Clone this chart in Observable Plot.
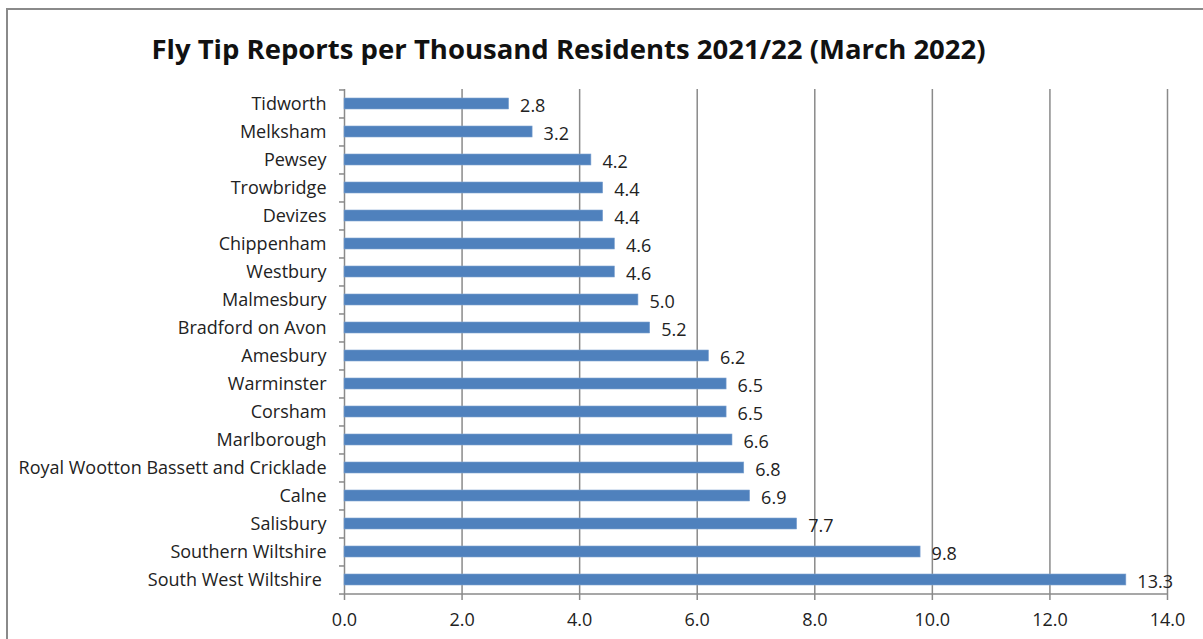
<!DOCTYPE html>
<html>
<head>
<meta charset="utf-8">
<script src="https://cdn.jsdelivr.net/npm/d3@7"></script>
<script src="https://cdn.jsdelivr.net/npm/@observablehq/plot@0.6"></script>
<style>
  html, body { margin: 0; padding: 0; background: #fff; overflow: hidden; }
  body { width: 1203px; height: 639px; position: relative; font-family: "Open Sans", Lato, sans-serif; }
  #frame { position: absolute; left: 6px; top: 8px; width: 1300px; height: 700px; border: 2px solid #8a8a8a; box-sizing: border-box; }
  #title { position: absolute; left: 0; top: 30px; width: 1137px; text-align: center; font-weight: bold; font-size: 27.5px; line-height: 38px; color: #111; }
  #chart { position: absolute; left: 0; top: 80px; }
</style>
</head>
<body>
<div id="frame"></div>
<div id="title">Fly Tip Reports per Thousand Residents 2021/22 (March 2022)</div>
<div id="chart"></div>
<script>
const categories = ["Tidworth","Melksham","Pewsey","Trowbridge","Devizes","Chippenham","Westbury","Malmesbury","Bradford on Avon","Amesbury","Warminster","Corsham","Marlborough","Royal Wootton Bassett and Cricklade","Calne","Salisbury","Southern Wiltshire","South West Wiltshire "];
const values = [2.8,3.2,4.2,4.4,4.4,4.6,4.6,5.0,5.2,6.2,6.5,6.5,6.6,6.8,6.9,7.7,9.8,13.3];
const xTicks = [0,2,4,6,8,10,12,14];

const data = categories.map((c, i) => ({name: c, value: values[i]}));
const W = 1203, H = 559, mt = 9, mb = 45;
const step = (H - mt - mb) / categories.length;
const grid = "#8a8a8a";

const plot = Plot.plot({
  width: W, height: H,
  marginLeft: 344, marginRight: 36, marginTop: mt, marginBottom: mb,
  style: {fontFamily: "'Open Sans', Lato, sans-serif", fontSize: "18px", color: "#222", background: "transparent"},
  x: {domain: [0, 14], ticks: xTicks},
  y: {domain: categories, paddingInner: 0.6, paddingOuter: 0.3},
  marks: [
    Plot.ruleX(xTicks, {stroke: grid, strokeWidth: 1.5}),
    Plot.barX(data, {y: "name", x: "value", fill: "#4F81BD", stroke: "#7FA3D1", strokeWidth: 0.6}),
    Plot.text(data, {y: "name", x: "value", text: d => d3.format(".1f")(d.value), textAnchor: "start", dx: 11, dy: 2, fill: "#222", fontSize: 18}),
    Plot.ruleY(categories, {y: d => d, x1: -0.085, x2: 0, stroke: grid, strokeWidth: 1.5, dy: -step / 2}),
    Plot.ruleY([categories[categories.length - 1]], {y: d => d, x1: -0.085, x2: 0, stroke: grid, strokeWidth: 1.5, dy: step / 2}),
    Plot.axisY({tickSize: 0, tickPadding: 18, fontSize: 18, label: null}),
    Plot.axisX({ticks: xTicks, tickFormat: d3.format(".1f"), tickSize: 6, tickPadding: 13, fontSize: 18, label: null, stroke: grid, strokeWidth: 1.5}),
    Plot.ruleY([categories[categories.length - 1]], {y: d => d, x1: 0, x2: 14, stroke: grid, strokeWidth: 1.5, dy: step / 2})
  ]
});
document.getElementById("chart").appendChild(plot);
</script>
</body>
</html>
